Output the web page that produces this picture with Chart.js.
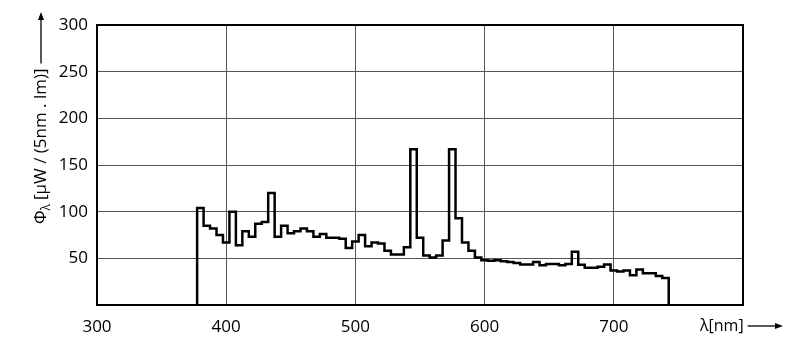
<!DOCTYPE html>
<html>
<head>
<meta charset="utf-8">
<script src="https://cdn.jsdelivr.net/npm/chart.js@4/dist/chart.umd.min.js"></script>
<style>
  html, body { margin: 0; padding: 0; background: #fff; }
  #wrap { width: 800px; height: 355px; }
</style>
</head>
<body>
<div id="wrap"><canvas id="spectrum" width="800" height="355"></canvas></div>
<script>
// 5 nm bin centres (nm)
var wavelengths = [
  380, 385, 390, 395, 400, 405, 410, 415, 420, 425, 430, 435, 440, 445, 450, 455,
  460, 465, 470, 475, 480, 485, 490, 495, 500, 505, 510, 515, 520, 525, 530, 535,
  540, 545, 550, 555, 560, 565, 570, 575, 580, 585, 590, 595, 600, 605, 610, 615,
  620, 625, 630, 635, 640, 645, 650, 655, 660, 665, 670, 675, 680, 685, 690, 695,
  700, 705, 710, 715, 720, 725, 730, 735, 740
];
// spectral flux per 5 nm bin, µW / (5nm . lm)
var flux = [
  104, 85, 82, 75, 67, 100, 64, 79, 73, 87, 89, 120, 73, 85, 77, 79,
  82, 79, 73, 76, 72, 72, 71, 61, 68, 75, 63, 67, 66, 58, 54, 54,
  62, 167, 72, 53, 51, 53, 69, 167, 93, 67, 58, 51, 48, 47.5, 48, 47,
  46, 45, 43.5, 43.5, 46, 42.5, 44, 44, 42.5, 44, 57, 43, 40, 40, 41, 43.5,
  37, 36, 37, 32, 38, 34, 34, 31, 29
];
var xTicks = [300, 400, 500, 600, 700, 800];
var yTicks = [0, 50, 100, 150, 200, 250, 300];
var binWidth = 5;

// histogram outline: starts and ends on the baseline
var steps = [{ x: wavelengths[0] - binWidth / 2, y: 0 }];
for (var i = 0; i < wavelengths.length; i++) {
  steps.push({ x: wavelengths[i] + binWidth / 2, y: flux[i] });
}
steps.push({ x: wavelengths[wavelengths.length - 1] + binWidth / 2, y: 0 });

var FONT = '"Open Sans", "DejaVu Sans", sans-serif';

function arrow(ctx, x1, y1, x2, y2) {
  var a = Math.atan2(y2 - y1, x2 - x1);
  ctx.beginPath();
  ctx.moveTo(x1, y1);
  ctx.lineTo(x2 - 6 * Math.cos(a), y2 - 6 * Math.sin(a));
  ctx.stroke();
  ctx.beginPath();
  ctx.moveTo(x2, y2);
  ctx.lineTo(x2 - 8 * Math.cos(a) + 3 * Math.sin(a), y2 - 8 * Math.sin(a) - 3 * Math.cos(a));
  ctx.lineTo(x2 - 8 * Math.cos(a) - 3 * Math.sin(a), y2 - 8 * Math.sin(a) + 3 * Math.cos(a));
  ctx.closePath();
  ctx.fill();
}

var frameAndTitles = {
  id: 'frameAndTitles',
  afterDraw: function (chart) {
    var ctx = chart.ctx, a = chart.chartArea;
    ctx.save();
    ctx.strokeStyle = '#000';
    ctx.fillStyle = '#000';
    ctx.lineWidth = 2;
    ctx.strokeRect(a.left, a.top, a.right - a.left, a.bottom - a.top);

    // y title, rotated
    ctx.lineWidth = 1.3;
    ctx.translate(46, 224);
    ctx.rotate(-Math.PI / 2);
    ctx.textBaseline = 'alphabetic';
    ctx.font = '17px ' + FONT;
    ctx.fillText('Φ', 0, 0);
    var x = ctx.measureText('Φ').width;
    ctx.font = '12px ' + FONT;
    ctx.fillText('λ', x, 4);
    x += ctx.measureText('λ').width + 4;
    ctx.font = '17px ' + FONT;
    var t = '[µW / (5nm . lm)]';
    ctx.fillText(t, x, 0);
    x += ctx.measureText(t).width + 5;
    arrow(ctx, x, -5, 212, -5);
    ctx.restore();

    // x title
    ctx.save();
    ctx.fillStyle = '#000';
    ctx.strokeStyle = '#000';
    ctx.lineWidth = 1.3;
    ctx.font = '16px ' + FONT;
    ctx.textBaseline = 'middle';
    ctx.fillText('λ[nm]', 700, 326);
    var w = ctx.measureText('λ[nm]').width;
    arrow(ctx, 700 + w + 4, 326, 783, 326);
    ctx.restore();
  }
};

new Chart(document.getElementById('spectrum').getContext('2d'), {
  type: 'line',
  data: {
    datasets: [{
      data: steps,
      stepped: 'after',
      borderColor: '#000',
      borderWidth: 2.5,
      pointRadius: 0,
      fill: false
    }]
  },
  options: {
    responsive: false,
    animation: false,
    devicePixelRatio: 1,
    layout: { padding: { left: 0, top: 25, right: 57, bottom: 0 } },
    plugins: { legend: { display: false }, tooltip: { enabled: false } },
    scales: {
      x: {
        type: 'linear',
        min: xTicks[0],
        max: xTicks[xTicks.length - 1],
        afterFit: function (s) { s.height = 50; },
        afterBuildTicks: function (s) { s.ticks = xTicks.map(function (v) { return { value: v }; }); },
        grid: { color: '#555', lineWidth: 1, drawTicks: false },
        border: { display: false },
        ticks: {
          padding: 12,
          color: '#000',
          font: { family: FONT, size: 17 },
          callback: function (v) { return v === 800 ? '' : v; }
        }
      },
      y: {
        min: yTicks[0],
        max: yTicks[yTicks.length - 1],
        afterFit: function (s) { s.width = 97; },
        afterBuildTicks: function (s) { s.ticks = yTicks.map(function (v) { return { value: v }; }); },
        grid: { color: '#555', lineWidth: 1, drawTicks: false },
        border: { display: false },
        ticks: {
          padding: 9,
          color: '#000',
          font: { family: FONT, size: 17 },
          callback: function (v) { return v === 0 ? '' : v; }
        }
      }
    }
  },
  plugins: [frameAndTitles]
});
</script>
</body>
</html>
